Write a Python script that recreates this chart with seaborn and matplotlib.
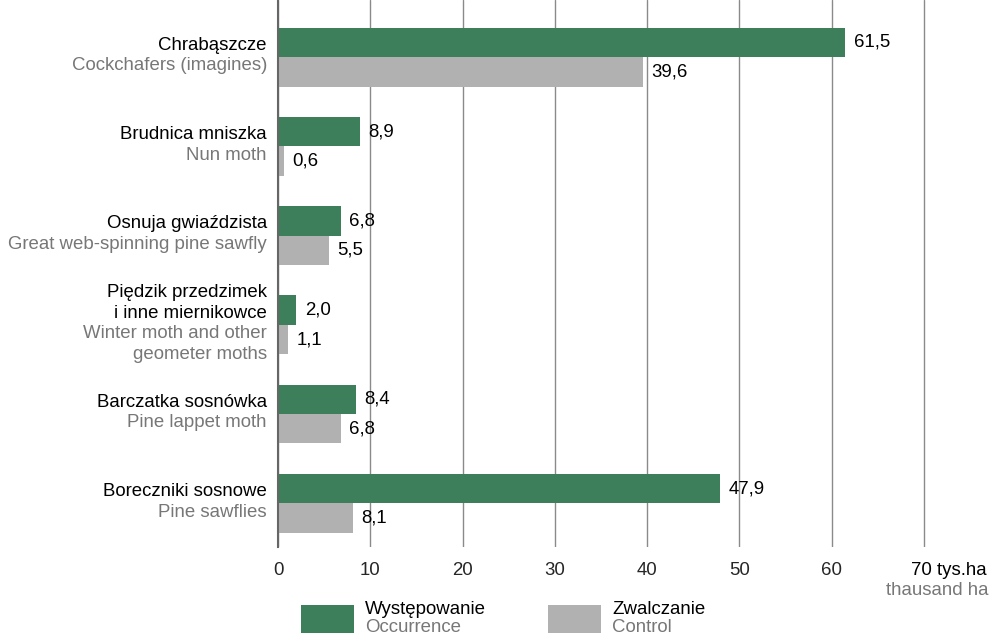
import pandas as pd
import matplotlib.pyplot as plt
import seaborn as sns
from matplotlib.patches import Rectangle

# dane
nazwy_pl = ["Chrabąszcze", "Brudnica mniszka", "Osnuja gwiaździsta",
            "Piędzik przedzimek\ni inne miernikowce", "Barczatka sosnówka",
            "Boreczniki sosnowe"]
nazwy_en = ["Cockchafers (imagines)", "Nun moth", "Great web-spinning pine sawfly",
            "Winter moth and other\ngeometer moths", "Pine lappet moth", "Pine sawflies"]
wystepowanie = [61.5, 8.9, 6.8, 2.0, 8.4, 47.9]
zwalczanie = [39.6, 0.6, 5.5, 1.1, 6.8, 8.1]
serie = ["Występowanie", "Zwalczanie"]
serie_en = ["Occurrence", "Control"]
kolory = ["#3c7f5a", "#b1b1b1"]
ticki = [0, 10, 20, 30, 40, 50, 60, 70]

df = pd.DataFrame({
    "kat": nazwy_pl * 2,
    "seria": [serie[0]] * len(nazwy_pl) + [serie[1]] * len(nazwy_pl),
    "wartosc": wystepowanie + zwalczanie,
})

FS = 13.4
sns.set_style("white")
plt.rcParams["font.family"] = ["Liberation Sans", "DejaVu Sans"]
plt.rcParams["font.size"] = FS

fig = plt.figure(figsize=(9.93, 6.37), dpi=100)
ax = fig.add_axes([0.280, 0.1413, 0.6523, 0.8587])

sns.barplot(data=df, y="kat", x="wartosc", hue="seria", hue_order=serie,
            palette=kolory, order=nazwy_pl, width=0.66, orient="h",
            saturation=1, legend=False, linewidth=0, ax=ax)

for cont, vals in zip(ax.containers, [wystepowanie, zwalczanie]):
    ax.bar_label(cont, labels=[f"{v:.1f}".replace(".", ",") for v in vals],
                 padding=6, fontsize=FS, color="black")

ax.set_xlim(0, 70.2)
ax.set_ylim(5.49, -0.64)
ax.set_xticks(ticki)
ax.set_xticklabels([str(t) for t in ticki[:-1]] + [""])
ax.tick_params(axis="x", length=0, pad=11, labelsize=FS)
ax.set_yticks([])
ax.set_xlabel("")
ax.set_ylabel("")
ax.grid(axis="x", color="#8a8a8a", lw=1)
ax.set_axisbelow(True)
for s in ["top", "right", "bottom"]:
    ax.spines[s].set_visible(False)
ax.spines["left"].set_color("#666666")
ax.spines["left"].set_linewidth(1.5)

# jednostka na osi
ax.annotate("70 tys.ha", xy=(70, 0), xycoords=("data", "axes fraction"),
            xytext=(-9, -20.5), textcoords="offset points", ha="left",
            va="baseline", fontsize=FS, color="black", annotation_clip=False)
fig.text(1 - 4 / 993, 1 - 595 / 637, "thausand ha", ha="right", va="baseline",
         fontsize=FS, color="#777777")

# etykiety kategorii (pl + en)
lh = 20.5 * 0.72
for i, (pl, en) in enumerate(zip(nazwy_pl, nazwy_en)):
    linie = [(t, "black") for t in pl.split("\n")] + [(t, "#777777") for t in en.split("\n")]
    n = len(linie)
    for k, (t, c) in enumerate(linie):
        dy = -((k - (n - 1) / 2) * lh + 3 * 0.72)
        ax.annotate(t, xy=(0, i), xycoords=("axes fraction", "data"),
                    xytext=(-8, dy), textcoords="offset points", ha="right",
                    va="baseline", fontsize=FS, color=c, annotation_clip=False)

# legenda
W, H = 993, 637
for x0, kol, s_pl, s_en in [(301, kolory[0], serie[0], serie_en[0]),
                            (548, kolory[1], serie[1], serie_en[1])]:
    fig.add_artist(Rectangle((x0 / W, 1 - 633 / H), 53 / W, 28 / H,
                             transform=fig.transFigure, color=kol, lw=0))
    fig.text((x0 + 64) / W, 1 - 614 / H, s_pl, fontsize=FS, color="black", va="baseline")
    fig.text((x0 + 64) / W, 1 - 632 / H, s_en, fontsize=FS, color="#777777", va="baseline")

fig.savefig("out.png", dpi=100)
